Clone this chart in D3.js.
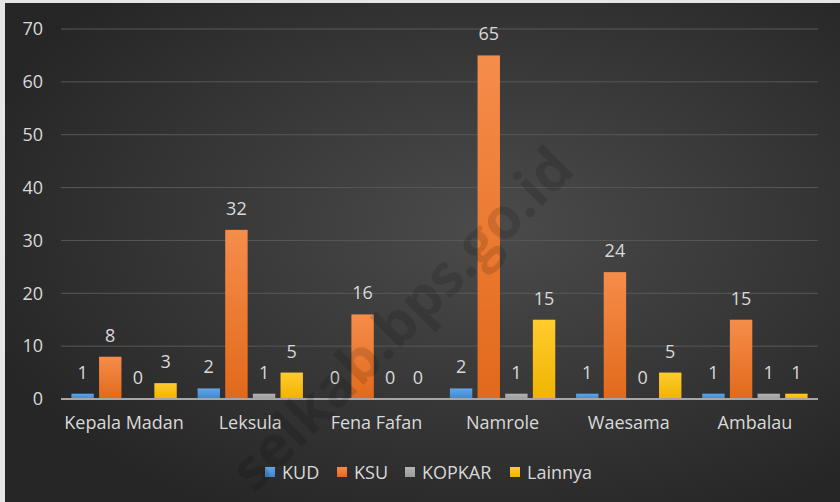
<!DOCTYPE html>
<meta charset="utf-8">
<style>
body { margin: 0; background: #e6e6e6; }
text { font-family: "Open Sans", "Noto Sans", sans-serif; }
</style>
<body>
<script src="https://d3js.org/d3.v7.min.js"></script>
<script>
// kabupaten / kecamatan
var categories = ["Kepala Madan", "Leksula", "Fena Fafan", "Namrole", "Waesama", "Ambalau"];
var seriesNames = ["KUD", "KSU", "KOPKAR", "Lainnya"];
var kud     = [1, 2, 0, 2, 1, 1];
var ksu     = [8, 32, 16, 65, 24, 15];
var kopkar  = [0, 1, 0, 1, 0, 1];
var lainnya = [3, 5, 0, 15, 5, 1];
var yTicks = [0, 10, 20, 30, 40, 50, 60, 70];

var colors = {KUD: ["#63a6e6", "#3f86cc"], KSU: ["#f58d4b", "#e2691b"],
              KOPKAR: ["#b4b4b4", "#9a9a9a"], Lainnya: ["#ffcb2e", "#f0b400"]};

var width = 840, height = 502;
var fontSize = "18px";

var svg = d3.select("body").append("svg")
    .attr("width", width)
    .attr("height", height);

var defs = svg.append("defs");
var bg = defs.append("radialGradient").attr("id", "bg")
    .attr("cx", "58%").attr("cy", "45%").attr("r", "65%");
bg.append("stop").attr("offset", "0%").attr("stop-color", "#4b4b4b");
bg.append("stop").attr("offset", "100%").attr("stop-color", "#262626");

seriesNames.forEach(function(s, i) {
  var g = defs.append("linearGradient").attr("id", "g" + i)
      .attr("x1", 0).attr("y1", 0).attr("x2", 0).attr("y2", 1);
  g.append("stop").attr("offset", "0%").attr("stop-color", colors[s][0]);
  g.append("stop").attr("offset", "100%").attr("stop-color", colors[s][1]);
});

svg.append("rect").attr("x", 5).attr("y", 3)
    .attr("width", width - 5).attr("height", height - 3)
    .attr("fill", "url(#bg)");

var y = d3.scaleLinear().domain([0, 70]).range([399, 29]);
var x0 = d3.scaleBand().domain(categories).range([61, 818]).paddingInner(0.165).paddingOuter(0.0825);
var x1 = d3.scaleBand().domain(seriesNames).range([0, x0.bandwidth()]).paddingInner(0.19);

// grid
svg.append("g").selectAll("line")
  .data(yTicks.filter(function(d) { return d > 0; }))
  .enter().append("line")
    .attr("x1", 61).attr("x2", 818)
    .attr("y1", function(d) { return y(d); })
    .attr("y2", function(d) { return y(d); })
    .attr("stroke", "#585858").attr("stroke-width", 1);

// y axis labels
var yAxis = svg.append("g")
    .attr("transform", "translate(47,0)")
    .call(d3.axisLeft(y).tickValues(yTicks).tickSize(0).tickPadding(4));
yAxis.select(".domain").remove();
yAxis.selectAll("text")
    .attr("fill", "#d9d9d9")
    .style("font-size", fontSize)
    .style("font-family", "'Open Sans', sans-serif");

var rows = categories.map(function(c, i) {
  return {cat: c, vals: [kud[i], ksu[i], kopkar[i], lainnya[i]]};
});

var groups = svg.append("g").selectAll("g")
  .data(rows)
  .enter().append("g")
    .attr("transform", function(d) { return "translate(" + x0(d.cat) + ",0)"; });

groups.selectAll("rect")
  .data(function(d) { return d.vals.map(function(v, i) { return {s: seriesNames[i], i: i, v: v}; }); })
  .enter().append("rect")
    .attr("x", function(d) { return x1(d.s); })
    .attr("width", x1.bandwidth())
    .attr("y", function(d) { return y(d.v); })
    .attr("height", function(d) { return y(0) - y(d.v); })
    .attr("fill", function(d) { return "url(#g" + d.i + ")"; });

groups.selectAll("text.val")
  .data(function(d) { return d.vals.map(function(v, i) { return {s: seriesNames[i], v: v}; }); })
  .enter().append("text")
    .attr("class", "val")
    .attr("x", function(d) { return x1(d.s) + x1.bandwidth() / 2; })
    .attr("y", function(d) { return y(d.v) - 15; })
    .attr("text-anchor", "middle")
    .attr("fill", "#d9d9d9")
    .style("font-size", fontSize)
    .text(function(d) { return d.v; });

// base axis line
svg.append("line")
    .attr("x1", 61).attr("x2", 818)
    .attr("y1", y(0)).attr("y2", y(0))
    .attr("stroke", "#a6a6a6").attr("stroke-width", 2);

// category labels
var xAxis = svg.append("g")
    .attr("transform", "translate(0," + y(0) + ")")
    .call(d3.axisBottom(x0).tickSize(0).tickPadding(17));
xAxis.select(".domain").remove();
xAxis.selectAll("text")
    .attr("fill", "#d9d9d9")
    .style("font-size", fontSize)
    .style("font-family", "'Open Sans', sans-serif");

// legend
var legendX = [265, 337, 405, 510];
var legend = svg.append("g").selectAll("g")
  .data(seriesNames)
  .enter().append("g")
    .attr("transform", function(d, i) { return "translate(" + legendX[i] + ",467)"; });
legend.append("rect")
    .attr("width", 10).attr("height", 10)
    .attr("fill", function(d, i) { return "url(#g" + i + ")"; });
legend.append("text")
    .attr("x", 17).attr("y", 12)
    .attr("fill", "#d9d9d9")
    .style("font-size", fontSize)
    .text(function(d) { return d; });

// watermark
svg.append("text")
    .attr("transform", "translate(405,322) rotate(-45)")
    .attr("text-anchor", "middle")
    .attr("dominant-baseline", "middle")
    .attr("fill", "#000").attr("fill-opacity", 0.13)
    .style("font-size", "57px").style("font-weight", "bold")
    .text("selkab.bps.go.id");
</script>
</body>
